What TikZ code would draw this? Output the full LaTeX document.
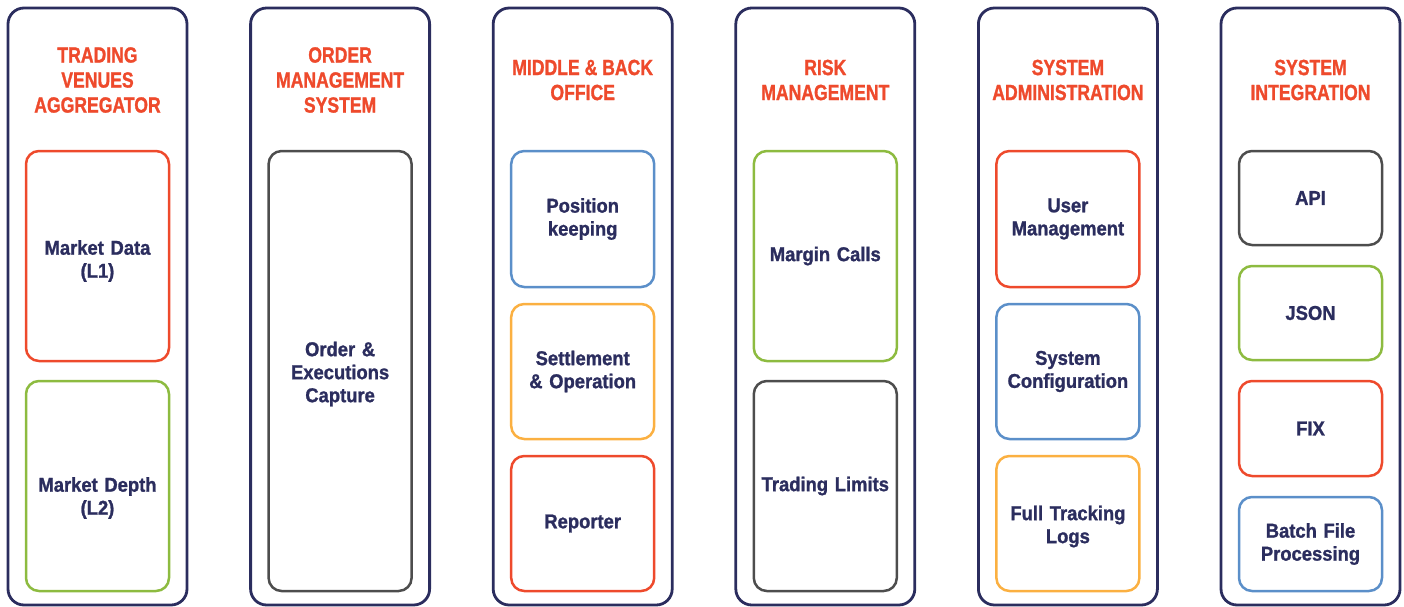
\documentclass[tikz,border=0pt]{standalone}
\usepackage{fontspec}
\setmainfont{Liberation Sans}
\newfontfamily\titlefont{Liberation Sans}[FakeStretch=0.8,FakeBold=1.2]
\newfontfamily\bodyfont{Liberation Sans}[FakeStretch=0.92,FakeBold=1.2]

\definecolor{navy}{HTML}{2B2D5E}
\definecolor{tred}{HTML}{EE4A2C}
\definecolor{tgreen}{HTML}{8DBB40}
\definecolor{tblue}{HTML}{5B8FC9}
\definecolor{torange}{HTML}{FBB041}
\definecolor{tgray}{HTML}{4D4D4D}

\tikzset{
    column/.style={draw=navy,line width=2.8pt,rounded corners=16pt,
        minimum width=179pt,minimum height=597pt},
    coltitle/.style={text=tred,align=center,inner sep=0pt,
        font=\titlefont\bfseries\fontsize{22}{25}\selectfont},
    module text/.style={text width=135pt,align=center,text=navy,
        font=\bodyfont\bfseries\fontsize{20}{23}\selectfont},
    module/.style={module text,draw=#1,line width=2.5pt,rounded corners=13pt,
        minimum width=143pt}
}

\begin{document}
\begin{tikzpicture}[x=1pt,y=-1pt]
\useasboundingbox (0,0) rectangle (1404,607);

    %Columnas y titulos
    \foreach \i/\name/\ttl in {0/tva/{TRADING\\VENUES\\AGGREGATOR},
        1/oms/{ORDER\\MANAGEMENT\\SYSTEM},
        2/mbo/{MIDDLE \& BACK\\OFFICE},
        3/risk/{RISK\\MANAGEMENT},
        4/admin/{SYSTEM\\ADMINISTRATION},
        5/integ/{SYSTEM\\INTEGRATION}}{
        \node[column] (\name) at ({97.5+242.6*\i},306.5) {};
        \node[coltitle] (\name-title) at ({97.5+242.6*\i},80) {\ttl};
    }

    %Trading venues aggregator
    \node[module=tred,minimum height=210pt,
        label={[module text,yshift=-5pt]center:Market Data\\(L1)}] (l1) at (tva |- 0,256) {};
    \node[module=tgreen,minimum height=210pt,
        label={[module text,yshift=-12pt]center:Market Depth\\(L2)}] (l2) at (tva |- 0,486) {};

    %Order management system
    \node[module=tgray,minimum height=440pt,
        label={[module text,yshift=-3pt]center:Order \&\\Executions\\Capture}] (capture) at (oms |- 0,371) {};

    %Middle & back office
    \node[module=tblue,minimum height=136pt] (position) at (mbo |- 0,219) {Position\\keeping};
    \node[module=torange,minimum height=135pt] (settle) at (mbo |- 0,371.5) {Settlement\\\& Operation};
    \node[module=tred,minimum height=135pt] (reporter) at (mbo |- 0,523.5) {Reporter};

    %Risk management
    \node[module=tgreen,minimum height=210pt] (margin) at (risk |- 0,256) {Margin Calls};
    \node[module=tgray,minimum height=210pt] (limits) at (risk |- 0,486) {Trading Limits};

    %System administration
    \node[module=tred,minimum height=136pt] (users) at (admin |- 0,219) {User\\Management};
    \node[module=tblue,minimum height=135pt] (config) at (admin |- 0,371.5) {System\\Configuration};
    \node[module=torange,minimum height=135pt,
        label={[module text,yshift=-3pt]center:Full Tracking\\Logs}] (logs) at (admin |- 0,523.5) {};

    %System integration
    \node[module=tgray,minimum height=94pt] (api) at (integ |- 0,198) {API};
    \node[module=tgreen,minimum height=94pt] (json) at (integ |- 0,313) {JSON};
    \node[module=tred,minimum height=95pt] (fix) at (integ |- 0,428.5) {FIX};
    \node[module=tblue,minimum height=94pt] (batch) at (integ |- 0,544) {Batch File\\Processing};
\end{tikzpicture}
\end{document}
